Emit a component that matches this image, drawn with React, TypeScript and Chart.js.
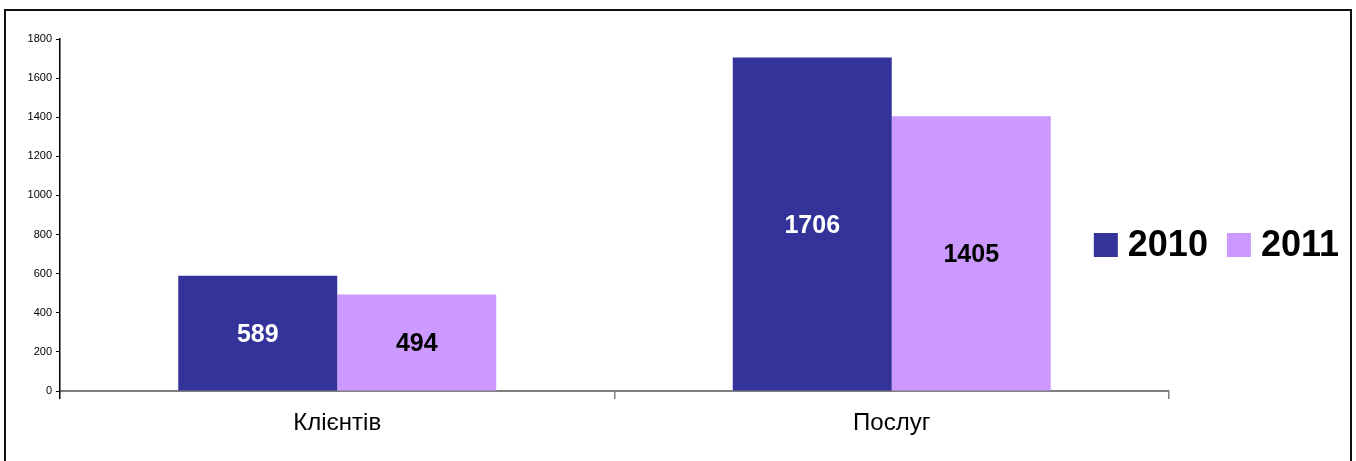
import React, { useEffect, useRef } from "react";
import { Chart, registerables } from "chart.js";

Chart.register(...registerables);

const categories = ["Клієнтів", "Послуг"];
const seriesNames = ["2010", "2011"];
const values2010 = [589, 1706];
const values2011 = [494, 1405];
const yMin = 0;
const yMax = 1800;
const yStep = 200;

const FONT = 'Arial, "Liberation Sans", sans-serif';
const COLORS = ["#333399", "#CC99FF"];
const LABEL_COLORS = ["#FFFFFF", "#000000"];

const valueLabelPlugin = {
  id: "valueLabels",
  afterDatasetsDraw(chart: any) {
    const ctx = chart.ctx;
    const size = 25;
    ctx.save();
    ctx.font = `bold ${size}px ${FONT}`;
    ctx.textAlign = "center";
    ctx.textBaseline = "alphabetic";
    chart.data.datasets.forEach((ds: any, di: number) => {
      const meta = chart.getDatasetMeta(di);
      meta.data.forEach((el: any, i: number) => {
        const cy = (el.y + el.base) / 2;
        ctx.fillStyle = LABEL_COLORS[di];
        ctx.fillText(String(ds.data[i]), el.x, cy + size * 0.36);
      });
    });
    ctx.restore();
  },
};

const legendPlugin = {
  id: "customLegend",
  afterDraw(chart: any) {
    const ctx = chart.ctx;
    const size = 36;
    const box = 24;
    const gapBoxText = 10;
    const gapItems = 19;
    const centerY = 245;
    ctx.save();
    ctx.font = `bold ${size}px ${FONT}`;
    const items = chart.data.datasets.map((ds: any) => ({
      label: ds.label,
      color: ds.backgroundColor,
      w: ctx.measureText(ds.label).width,
    }));
    let total = 0;
    items.forEach((it: any, i: number) => {
      total += box + gapBoxText + it.w + (i < items.length - 1 ? gapItems : 0);
    });
    let x = chart.width - 17 - total;
    items.forEach((it: any) => {
      ctx.fillStyle = it.color;
      ctx.fillRect(x, centerY - box / 2, box, box);
      x += box + gapBoxText;
      ctx.fillStyle = "#000000";
      ctx.textAlign = "left";
      ctx.textBaseline = "alphabetic";
      ctx.fillText(it.label, x, centerY - 2 + size * 0.36);
      x += it.w + gapItems;
    });
    ctx.restore();
  },
};

export default function App() {
  const ref = useRef<HTMLCanvasElement>(null);

  useEffect(() => {
    if (!ref.current) return;
    const chart = new Chart(ref.current, {
      type: "bar",
      data: {
        labels: categories,
        datasets: [
          {
            label: seriesNames[0],
            data: values2010,
            backgroundColor: COLORS[0],
            borderWidth: 0,
            categoryPercentage: 0.5735,
            barPercentage: 1,
          },
          {
            label: seriesNames[1],
            data: values2011,
            backgroundColor: COLORS[1],
            borderWidth: 0,
            categoryPercentage: 0.5735,
            barPercentage: 1,
          },
        ],
      },
      options: {
        responsive: false,
        animation: false,
        devicePixelRatio: 1,
        layout: { padding: { left: 0, right: 187, top: 39, bottom: 0 } },
        plugins: {
          legend: { display: false },
          tooltip: { enabled: false },
        },
        scales: {
          x: {
            offset: true,
            grid: {
              offset: true,
              drawOnChartArea: false,
              drawTicks: true,
              tickLength: 8,
              color: (c: any) => (c.index === 0 ? "#000000" : "#808080"),
              lineWidth: 1.5,
            },
            border: { display: true, color: "#808080", width: 2 },
            ticks: {
              color: "#000000",
              font: { family: FONT, size: 24 },
              padding: 10,
              maxRotation: 0,
            },
            afterFit(scale: any) {
              scale.height = 70;
            },
          },
          y: {
            min: yMin,
            max: yMax,
            grid: {
              drawOnChartArea: false,
              drawTicks: true,
              tickLength: 4,
              color: "#000000",
              lineWidth: 1,
            },
            border: { display: true, color: "#000000", width: 1.5 },
            ticks: {
              stepSize: yStep,
              color: "#000000",
              font: { family: FONT, size: 11 },
              padding: 4,
              callback: (v: any) => String(v),
            },
            afterFit(scale: any) {
              scale.width = 60;
            },
          },
        },
      },
      plugins: [valueLabelPlugin, legendPlugin],
    });
    return () => chart.destroy();
  }, []);

  return (
    <div
      style={{
        position: "absolute",
        left: 0,
        top: 0,
        width: 1356,
        height: 461,
        overflow: "hidden",
        background: "#ffffff",
      }}
    >
      <div
        style={{
          position: "absolute",
          left: 4,
          top: 9,
          width: 1344,
          height: 500,
          border: "2px solid #111111",
        }}
      />
      <canvas
        ref={ref}
        width={1356}
        height={461}
        style={{ position: "absolute", left: 0, top: 0, width: 1356, height: 461 }}
      />
    </div>
  );
}
